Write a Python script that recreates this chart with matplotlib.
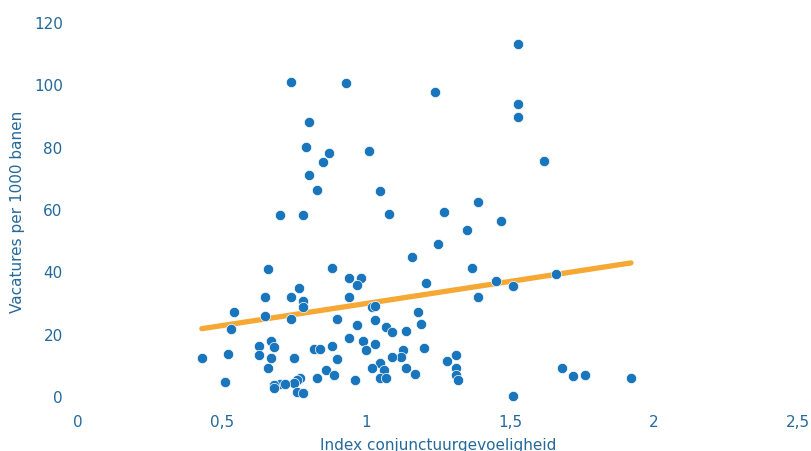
import matplotlib
matplotlib.use("Agg")
import matplotlib.pyplot as plt

# Index conjunctuurgevoeligheid (x) and Vacatures per 1000 banen (y)
index_x = [1.527, 0.740, 0.931, 1.239, 1.527, 1.527, 0.802, 0.791, 1.010, 0.870,
           0.852, 1.619, 0.802, 0.830, 1.050, 1.390, 0.701, 0.780, 1.079, 1.270,
           1.470, 1.349, 1.250, 1.160, 0.661, 0.881, 1.369, 0.942, 0.982, 0.969,
           0.769, 1.659, 1.450, 1.210, 1.509, 0.650, 0.740, 0.942, 1.390, 0.780,
           0.780, 1.021, 1.030, 0.540, 1.180, 0.650, 0.740, 0.901, 1.030, 0.969,
           1.191, 1.070, 1.090, 1.140, 0.531, 0.942, 0.670, 0.991, 1.030, 0.630,
           0.680, 0.881, 0.821, 0.841, 1.200, 1.000, 1.129, 1.120, 1.090, 1.311,
           0.520, 0.630, 0.430, 0.670, 0.751, 0.901, 1.281, 1.050, 0.661, 1.021,
           1.140, 1.311, 1.680, 1.061, 0.861, 1.171, 0.890, 1.311, 1.720, 1.760,
           0.830, 1.050, 1.070, 1.320, 1.920, 0.771, 0.762, 0.962, 0.512, 0.751,
           0.701, 0.720, 0.680, 0.680, 0.762, 0.780, 1.509]
vacatures_y = [113.0, 100.9, 100.3, 97.6, 93.8, 89.5, 88.0, 79.8, 78.7, 78.0,
               75.2, 75.5, 71.0, 66.2, 65.8, 62.2, 58.1, 58.1, 58.5, 59.1,
               56.1, 53.3, 48.8, 44.6, 40.8, 41.2, 41.2, 38.0, 38.0, 35.5,
               34.8, 39.1, 36.8, 36.1, 35.3, 31.9, 31.7, 31.9, 31.9, 30.6,
               28.4, 28.4, 28.8, 27.1, 27.1, 25.6, 24.8, 24.6, 24.4, 22.8,
               23.2, 22.1, 20.4, 20.8, 21.4, 18.7, 17.8, 17.8, 16.8, 15.9,
               15.6, 15.9, 15.0, 15.0, 15.3, 14.6, 14.6, 12.6, 12.6, 13.2,
               13.5, 13.0, 12.3, 12.3, 12.3, 11.8, 11.2, 10.5, 9.1, 9.1,
               9.1, 9.1, 9.1, 8.2, 8.2, 7.1, 6.7, 6.7, 6.3, 6.7,
               5.8, 5.8, 5.8, 5.2, 5.8, 5.8, 5.0, 5.0, 4.6, 4.3,
               3.7, 3.7, 3.4, 2.6, 1.3, 1.0, 0.0]

# Trend line endpoints
trend_x = [0.43, 1.92]
trend_y = [21.6, 42.7]

x_ticks = [0, 0.5, 1, 1.5, 2, 2.5]
x_tick_labels = ["0", "0,5", "1", "1,5", "2", "2,5"]
y_ticks = [0, 20, 40, 60, 80, 100, 120]
y_tick_labels = ["0", "20", "40", "60", "80", "100", "120"]

W, H = 811, 452
fig = plt.figure(figsize=(W / 100, H / 100), dpi=100)
left, right = 78 / W, 798 / W
ylo, yhi = -4, 122
px_per = (397 - 23) / 120.0
bot_px = 397 + (-ylo) * px_per
top_px = 397 - yhi * px_per
ax = fig.add_axes([left, (H - bot_px) / H, right - left, (bot_px - top_px) / H])

text_color = "#24699a"
dot_color = "#1a76bc"
line_color = "#f5a833"

ax.plot(trend_x, trend_y, color=line_color, lw=3.8, solid_capstyle="round", zorder=2)
ax.scatter(index_x, vacatures_y, s=55, color=dot_color, edgecolors="white",
           linewidths=0.5, zorder=3)

ax.set_xlim(0, 2.5)
ax.set_ylim(ylo, yhi)
ax.set_xticks(x_ticks)
ax.set_xticklabels(x_tick_labels)
ax.set_yticks(y_ticks)
ax.set_yticklabels(y_tick_labels)
ax.tick_params(length=0, labelsize=11, labelcolor=text_color)
ax.tick_params(axis="x", pad=4)
ax.tick_params(axis="y", pad=11)
for s in ax.spines.values():
    s.set_visible(False)
ax.patch.set_alpha(0)

fig.text(438 / W, (H - 446) / H, "Index conjunctuurgevoeligheid", ha="center",
         va="center", fontsize=11, color=text_color)
fig.text(18 / W, (H - 212) / H, "Vacatures per 1000 banen", ha="center",
         va="center", rotation=90, fontsize=11, color=text_color)

fig.savefig("out.png", dpi=100)
